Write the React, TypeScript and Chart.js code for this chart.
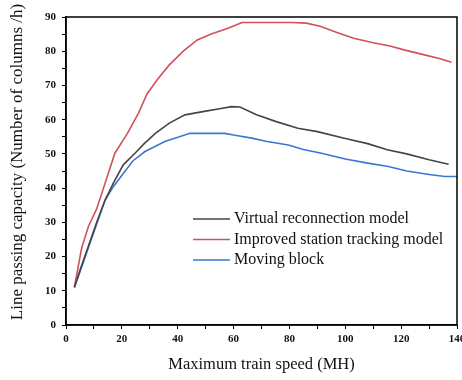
import React, { useEffect, useRef } from "react";
import { Chart, registerables } from "chart.js";
Chart.register(...registerables);

const seriesLabels = [
  "Virtual reconnection model",
  "Improved station tracking model",
  "Moving block",
];
const seriesColors = ["#454545", "#d0525a", "#3a78d0"];

const virtualX = [3, 5, 8, 11, 14, 17, 20.5, 24.7, 28, 32, 37, 42.6, 50, 55, 59.3, 62.3, 68, 75, 83, 90, 100, 108, 115, 122, 130, 137];
const virtualY = [11, 16, 23, 30, 36.5, 41.5, 46.8, 50.2, 53, 56, 59, 61.4, 62.5, 63.2, 63.8, 63.7, 61.5, 59.5, 57.5, 56.5, 54.5, 53.0, 51.2, 50, 48.3, 47];

const improvedX = [3, 5.6, 8, 11, 14, 17.5, 22, 26, 29, 33, 37, 42, 47, 52, 58, 63, 81, 86, 91, 97, 103, 110, 116, 121, 128, 134, 138];
const improvedY = [11, 22.5, 28.7, 34, 41.4, 50.2, 56, 62, 67.5, 72, 76, 80, 83.3, 85, 86.7, 88.4, 88.4, 88.2, 87.3, 85.5, 83.8, 82.5, 81.5, 80.4, 79, 77.8, 76.8];

const movingX = [3, 5, 8, 11, 14, 17, 20.5, 24, 28.3, 35.4, 44.4, 56.9, 60, 66.5, 72, 79.6, 85, 91.5, 100, 108, 115.4, 122, 130, 135.7, 140];
const movingY = [11, 15.5, 22.6, 29.5, 36.5, 40.5, 44.3, 48, 50.7, 53.6, 56, 56, 55.5, 54.6, 53.6, 52.6, 51.3, 50.2, 48.5, 47.3, 46.3, 45, 44, 43.4, 43.4];

const xTitle = "Maximum train speed (MH)";
const yTitle = "Line passing capacity (Number of columns /h)";

const FONT = "'Liberation Serif', 'DejaVu Serif', serif";

function pts(xs: number[], ys: number[]) {
  return xs.map((x, i) => ({ x, y: ys[i] }));
}

const framePlugin = {
  id: "frame",
  afterDraw(chart: any) {
    const { ctx, chartArea: a } = chart;
    ctx.save();
    ctx.strokeStyle = "#000";
    ctx.lineWidth = 1.5;
    ctx.strokeRect(a.left, a.top, a.right - a.left, a.bottom - a.top);
    // legend
    const lx = a.left + 127;
    const ly = a.top + 202;
    ctx.font = `16px ${FONT}`;
    ctx.textBaseline = "middle";
    ctx.textAlign = "left";
    chart.data.datasets.forEach((ds: any, i: number) => {
      const y = ly + i * 20.5;
      ctx.strokeStyle = ds.borderColor;
      ctx.lineWidth = 1.6;
      ctx.beginPath();
      ctx.moveTo(lx, y);
      ctx.lineTo(lx + 37, y);
      ctx.stroke();
      ctx.fillStyle = "#111";
      ctx.fillText(ds.label, lx + 41, y);
    });
    // axis titles
    ctx.fillStyle = "#111";
    ctx.textAlign = "center";
    ctx.font = `16.5px ${FONT}`;
    ctx.fillText(xTitle, (a.left + a.right) / 2, 365);
    ctx.translate(18, 162);
    ctx.rotate(-Math.PI / 2);
    ctx.font = `17px ${FONT}`;
    ctx.fillText(yTitle, 0, 0);
    ctx.restore();
  },
};

export default function App() {
  const ref = useRef<HTMLCanvasElement>(null);
  useEffect(() => {
    document.body.style.margin = "0";
    const c = new Chart(ref.current!, {
      type: "line",
      data: {
        datasets: [
          { label: seriesLabels[0], data: pts(virtualX, virtualY), borderColor: seriesColors[0] },
          { label: seriesLabels[1], data: pts(improvedX, improvedY), borderColor: seriesColors[1] },
          { label: seriesLabels[2], data: pts(movingX, movingY), borderColor: seriesColors[2] },
        ].map((d) => ({ ...d, borderWidth: 1.6, pointRadius: 0, fill: false, tension: 0 })),
      },
      options: {
        animation: false,
        responsive: false,
        layout: { padding: { top: 17, right: 5, left: 0, bottom: 0 } },
        plugins: { legend: { display: false }, tooltip: { enabled: false } },
        scales: {
          x: {
            type: "linear",
            min: 0,
            max: 140,
            grid: { drawOnChartArea: false, tickLength: 4, color: "#000", lineWidth: 1 },
            border: { color: "#000", width: 1.5 },
            ticks: {
              stepSize: 10,
              autoSkip: false,
              maxRotation: 0,
              padding: 4,
              color: "#111",
              font: { family: FONT, size: 11, weight: "bold" },
              callback: (v: any) => (v % 20 === 0 ? String(v) : ""),
            },
            afterFit: (s: any) => {
              s.height = 55;
              s.paddingRight = 0;
              s.paddingLeft = 0;
            },
          },
          y: {
            min: 0,
            max: 90,
            grid: { drawOnChartArea: false, tickLength: 4, color: "#000", lineWidth: 1 },
            border: { color: "#000", width: 1.5 },
            ticks: {
              stepSize: 5,
              autoSkip: false,
              padding: 6,
              color: "#111",
              font: { family: FONT, size: 11, weight: "bold" },
              callback: (v: any) => (v % 10 === 0 ? String(v) : ""),
            },
            afterFit: (s: any) => {
              s.width = 66;
              s.paddingTop = 0;
              s.paddingBottom = 0;
            },
          },
        },
      } as any,
      plugins: [framePlugin],
    });
    return () => c.destroy();
  }, []);
  return <canvas ref={ref} width={462} height={380} style={{ display: "block" }} />;
}
